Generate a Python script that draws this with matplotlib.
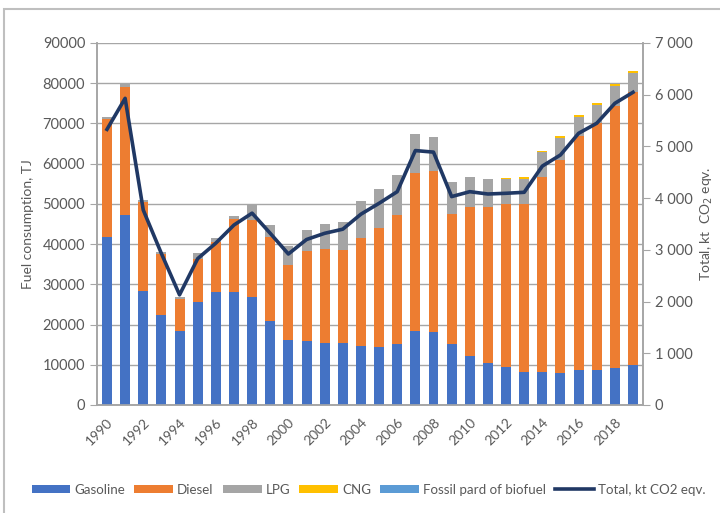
import matplotlib
matplotlib.use("Agg")
import matplotlib.pyplot as plt
import numpy as np
from matplotlib.ticker import FuncFormatter, MultipleLocator
from matplotlib.patches import Rectangle

years = list(range(1990, 2020))
gasoline = [41800, 47200, 28450, 22460, 18470, 25540, 28200, 28200, 26950, 20800,
            16100, 16030, 15450, 15450, 14780, 14530, 15200, 18520, 18110, 15200,
            12100, 10560, 9560, 8320, 8320, 8070, 8730, 8650, 9310, 9900]
diesel = [29200, 31830, 22050, 14980, 7900, 10820, 12320, 17970, 18970, 20960,
          18600, 22260, 23250, 23000, 26830, 29490, 31980, 39040, 40030, 32230,
          37100, 38670, 40340, 41740, 48400, 52800, 58130, 61370, 65030, 68020]
lpg = [700, 840, 580, 500, 580, 1490, 1080, 920, 3750, 2920,
       4900, 5150, 6230, 7060, 9140, 9630, 9960, 9720, 8550, 8050,
       7600, 7070, 6230, 6240, 6230, 5410, 4660, 4570, 5080, 4580]
cng = [0, 0, 0, 0, 0, 0, 0, 0, 0, 0,
       0, 0, 0, 0, 0, 0, 0, 0, 0, 0,
       0, 0, 420, 300, 250, 580, 580, 590, 330, 580]
fossil_bio = [0] * 30
total_co2 = [5330, 5930, 3770, 2930, 2130, 2830, 3130, 3480, 3710, 3320,
             2920, 3200, 3320, 3400, 3690, 3900, 4125, 4920, 4890, 4030,
             4125, 4080, 4094, 4113, 4620, 4835, 5254, 5448, 5834, 6047]

plt.rcParams['font.family'] = ['Lato', 'DejaVu Sans']
tick_color = '#595959'
grid_color = '#A6A6A6'

fig = plt.figure(figsize=(7.2, 5.13), dpi=100)
ax = fig.add_axes([97/720, 108/513, 546/720, 362/513])
ax2 = ax.twinx()

x = np.arange(len(years))
w = 0.55
g = np.array(gasoline); d = np.array(diesel); fb = np.array(fossil_bio)
l = np.array(lpg); c = np.array(cng)
ax.bar(x, g, w, color='#4472C4', label='Gasoline', zorder=3)
ax.bar(x, d, w, bottom=g, color='#ED7D31', label='Diesel', zorder=3)
ax.bar(x, l, w, bottom=g + d, color='#A5A5A5', label='LPG', zorder=3)
ax.bar(x, c, w, bottom=g + d + l, color='#FFC000', label='CNG', zorder=3)
ax.bar(x, fb, w, bottom=g + d + l + c, color='#5B9BD5', label='Fossil pard of biofuel', zorder=3)

ax2.plot(x, total_co2, color='#203864', lw=2.6, label='Total, kt CO2 eqv.', zorder=4)

ax.set_xlim(-0.55, len(years) - 0.45)
ax.set_ylim(0, 90000)
ax2.set_ylim(0, 7000)
ax.yaxis.set_major_locator(MultipleLocator(10000))
ax2.yaxis.set_major_locator(MultipleLocator(1000))
ax2.yaxis.set_major_formatter(FuncFormatter(lambda v, p: f"{int(v):,}".replace(",", " ")))
ax.grid(axis='y', color=grid_color, lw=1.0, zorder=0)
ax.set_axisbelow(True)

ax.set_xticks(x[::2])
ax.set_xticklabels([str(y) for y in years[::2]], rotation=45, ha='right',
                   rotation_mode='anchor', color=tick_color, fontsize=10)
ax.tick_params(axis='x', length=0, pad=8)
ax.tick_params(axis='y', colors=tick_color, labelsize=10.5, length=5, color=grid_color, direction='out')
ax2.tick_params(axis='y', colors=tick_color, labelsize=10.5, length=5, color=grid_color, direction='out')

for a in (ax, ax2):
    a.spines['top'].set_visible(False)
    for s in ('left', 'right', 'bottom'):
        a.spines[s].set_color(grid_color)
        a.spines[s].set_linewidth(1.2)

ax.set_ylabel('Fuel consumption, TJ', color=tick_color, fontsize=10, labelpad=6)
ax2.set_ylabel('Total, kt  CO$_2$ eqv.', color=tick_color, fontsize=10, labelpad=4)

h1, l1 = ax.get_legend_handles_labels()
h2, l2 = ax2.get_legend_handles_labels()
fig.legend(h1 + h2, l1 + l2, loc='center', bbox_to_anchor=(0.512, 0.045), ncol=6,
           frameon=False, fontsize=9.6, handlelength=2.9, handleheight=0.6,
           columnspacing=0.7, handletextpad=0.3, labelcolor=tick_color)

fig.patches.append(Rectangle((4/720, -0.1), 1.2, (513 - 9)/513 + 0.1, transform=fig.transFigure,
                             fill=False, edgecolor='#BFBFBF', lw=1.5))

fig.savefig('out.png', dpi=100)
